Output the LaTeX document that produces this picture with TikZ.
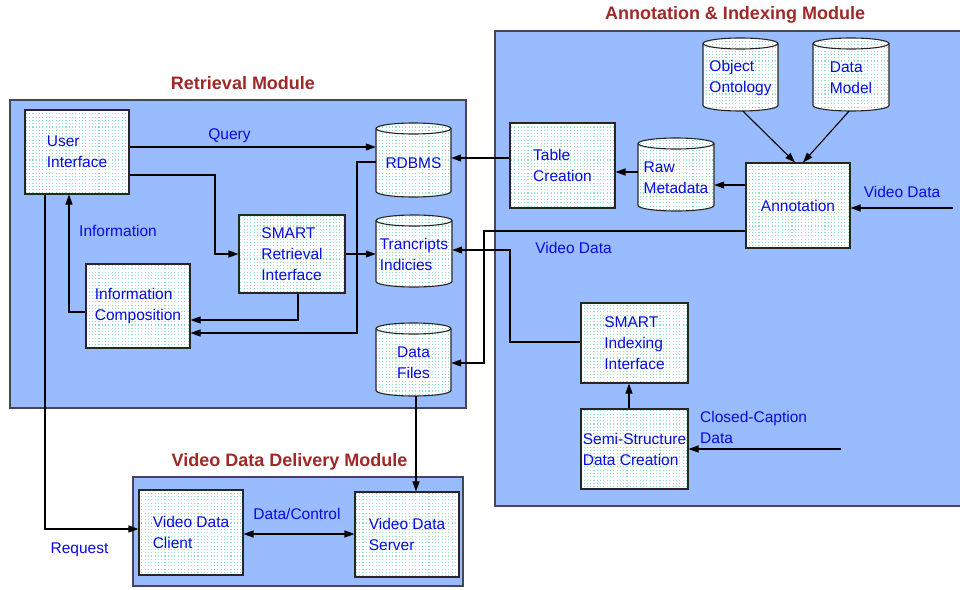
\documentclass[tikz,border=0pt]{standalone}
\usepackage{fontspec}
\setmainfont{Liberation Sans}
\usetikzlibrary{arrows.meta,patterns,calc}
\definecolor{modfill}{RGB}{153,187,255}
\definecolor{modline}{RGB}{70,70,90}
\definecolor{txtblue}{RGB}{10,10,225}
\definecolor{ttlred}{RGB}{160,40,40}
\definecolor{dotgreen}{RGB}{150,222,195}
\pgfdeclarepatternformonly{gdots}{\pgfqpoint{-1pt}{-1pt}}{\pgfqpoint{1pt}{1pt}}{\pgfqpoint{3.3pt}{3.3pt}}{\pgfpathrectangle{\pgfqpoint{-0.55pt}{-0.55pt}}{\pgfqpoint{1.1pt}{1.1pt}}\pgfusepath{fill}}
\newcommand\dgfont{\fontsize{15.5}{21}\selectfont}
\newcommand\dgtitle{\fontsize{18}{22}\selectfont\bfseries}
\tikzset{
  module/.style={fill=modfill, draw=modline, line width=1.5pt},
  proc/.style={draw=black!85, line width=1.1pt, preaction={fill=white}, pattern=gdots, pattern color=dotgreen, inner sep=0pt, align=left, text=txtblue, font=\dgfont},
  cylbody/.style={draw=black!85, line width=1.1pt, preaction={fill=white}, pattern=gdots, pattern color=dotgreen},
  cylline/.style={draw=black!85, line width=1.1pt},
  cylbox/.style={inner sep=0pt, draw=none},
  cyltext/.style={inner sep=0pt, align=left, text=txtblue, font=\dgfont},
  lbl/.style={inner sep=0pt, align=left, text=txtblue, font=\dgfont},
  ttl/.style={inner sep=0pt, text=ttlred, font=\dgtitle},
  conn/.style={draw=black, line width=1.1pt, -{Triangle[length=10pt,width=7pt]}},
  conn2/.style={draw=black, line width=1.1pt, {Triangle[length=10pt,width=7pt]}-{Triangle[length=10pt,width=7pt]}},
}
\newcommand\pbox[6]{\node[proc, minimum width={#4-#2}, minimum height={#5-#3}] (#1) at ({(#2+#4)/2},{(#3+#5)/2}) {#6};}
\newcommand\dbcyl[6]{%
  \path[cylbody] (#2,#3+5.5) -- (#2,#5-5.5) arc[start angle=180,end angle=0,x radius={(#4-#2)/2},y radius=5.5] -- (#4,#3+5.5) arc[start angle=0,end angle=-180,x radius={(#4-#2)/2},y radius=5.5] -- cycle;
  \draw[cylline] (#2,#3+5.5) arc[start angle=180,end angle=0,x radius={(#4-#2)/2},y radius=5.5];
  \node[cylbox, minimum width={#4-#2}, minimum height={#5-#3}] (#1) at ({(#2+#4)/2},{(#3+#5)/2}) {};
  \node[cyltext] (#1t) at ([yshift=-3.5pt]#1.center) {#6};
}
\begin{document}
\begin{tikzpicture}[x=1pt,y=-1pt]
\useasboundingbox[fill=white] (0,0) rectangle (960,589);
% modules
\draw[module] (10,100) rectangle (466,408);
\draw[module] (495,31) rectangle (964,506);
\draw[module] (133,477) rectangle (463,586);
\node[ttl] (t1) at (243,83) {Retrieval Module};
\node[ttl] (t2) at (735,15) {Annotation \& Indexing Module};
\node[ttl] (t3) at (289.5,462) {Video Data Delivery Module};
% retrieval
\pbox{ui}{25}{110}{129}{194}{User\\Interface}
\pbox{sri}{239}{215}{345}{293}{SMART\\Retrieval\\Interface}
\pbox{ic}{86}{264}{190}{348}{Information\\Composition}
\dbcyl{rdb}{376}{123}{451}{197}{RDBMS}
\dbcyl{tri}{376}{215}{452}{287}{Trancripts\\Indicies}
\dbcyl{dfl}{376}{323}{451}{396}{Data\\Files}
% annotation
\dbcyl{oo}{703}{38}{778}{111}{Object\\Ontology}
\dbcyl{dm}{813}{38}{889}{111}{Data\\Model}
\dbcyl{raw}{638}{138}{714}{211}{Raw\\Metadata}
\pbox{tab}{510}{123}{615}{208}{Table\\Creation}
\pbox{ann}{746}{163}{850}{248}{Annotation}
\pbox{sii}{581}{303}{688}{383}{SMART\\Indexing\\Interface}
\pbox{ssd}{581}{409}{688}{489}{Semi-Structure\\Data Creation}
% delivery
\pbox{cli}{139}{490}{243}{575}{Video Data\\Client}
\pbox{srv}{355}{492}{459}{577}{Video Data\\Server}
% labels
\node[lbl] (lq) at (229.5,135.5) {Query};
\node[lbl] (linf) at (118,231) {Information};
\node[lbl] (lreq) at (79.5,550) {Request};
\node[lbl] (ldc) at (297,514) {Data/Control};
\node[lbl] (lvd1) at (902,192) {Video Data};
\node[lbl] (lvd2) at (573.5,248) {Video Data};
\node[lbl, anchor=west] (lcc) at (700,427) {Closed-Caption\\Data};
% free ends
\coordinate (vin) at (953,208);
\coordinate (ccin) at (841,449);
% connectors
\draw[conn] (ui.east |- 0,147) -- (rdb.west |- 0,147);
\draw[conn] (ui.east |- 0,175) -| (215,254) -- (sri.west |- 0,254);
\draw[conn] (sri.east |- 0,254) -- (tri.west |- 0,254);
\draw[conn] (sri.south -| 298,0) |- (ic.east |- 0,320);
\draw[conn] (rdb.west |- 0,162) -| (357,333) -- (ic.east |- 0,333);
\draw[conn] (ic.west |- 0,312) -| (ui.south -| 69,0);
\draw[conn] (ui.south -| 45,0) |- (cli.west |- 0,529);
\draw[conn] (dfl.south -| 416,0) -- (srv.north -| 416,0);
\draw[conn2] (cli.east |- 0,534) -- (srv.west |- 0,534);
\draw[conn] (tab.west |- 0,158) -- (rdb.east |- 0,158);
\draw[conn] (raw.west |- 0,172) -- (tab.east |- 0,172);
\draw[conn] (ann.west |- 0,185) -- (raw.east |- 0,185);
\draw[conn] (oo.south -| 743,0) -- (ann.north -| 795,0);
\draw[conn] (dm.south -| 849,0) -- (ann.north -| 803,0);
\draw[conn] (vin) -- (ann.east |- vin);
\draw[conn] (ann.west |- 0,231) -| (484,363) -- (dfl.east |- 0,363);
\draw[conn] (sii.west |- 0,342) -| (510,250) -- (tri.east |- 0,250);
\draw[conn] (ssd.north -| 629,0) -- (sii.south -| 629,0);
\draw[conn] (ccin) -- (ssd.east |- ccin);
\end{tikzpicture}
\end{document}
